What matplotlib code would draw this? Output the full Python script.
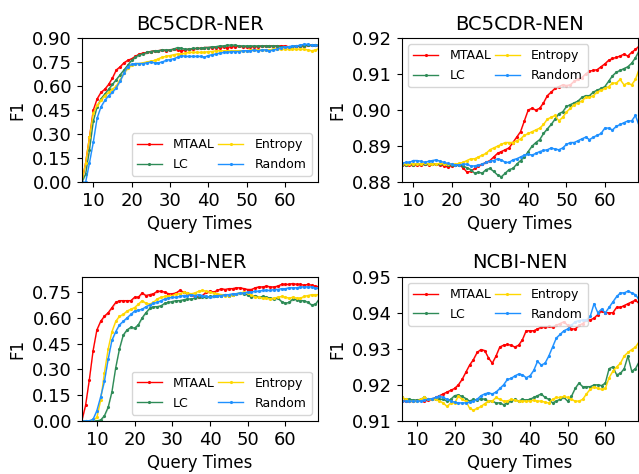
import numpy as np
import matplotlib
matplotlib.use("Agg")
import matplotlib.pyplot as plt

# query times
x_top = np.arange(7, 70)
x_bottom = np.arange(6, 70)

methods = ["MTAAL", "LC", "Entropy", "Random"]
colors = ["red", "seagreen", "gold", "dodgerblue"]

# BC5CDR-NER (x = 7..69)
bc_ner_mtaal = [0.00, 0.12, 0.28, 0.45, 0.52, 0.56, 0.58, 0.61, 0.65, 0.70,
                0.72, 0.745, 0.76, 0.77, 0.785, 0.80, 0.805, 0.81, 0.815, 0.82,
                0.82, 0.825, 0.82, 0.825, 0.83, 0.825, 0.82, 0.825, 0.83, 0.83,
                0.835, 0.835, 0.84, 0.84, 0.84, 0.84, 0.84, 0.845, 0.84, 0.845,
                0.845, 0.85, 0.845, 0.845, 0.845, 0.845, 0.845, 0.85, 0.85, 0.85,
                0.85, 0.85, 0.85, 0.85, 0.845, 0.845, 0.85, 0.85, 0.85, 0.855,
                0.855, 0.855, 0.85]
bc_ner_lc = [0.00, 0.05, 0.20, 0.38, 0.47, 0.52, 0.55, 0.58, 0.61, 0.64,
             0.67, 0.70, 0.73, 0.76, 0.78, 0.795, 0.80, 0.81, 0.815, 0.82,
             0.82, 0.825, 0.825, 0.825, 0.83, 0.84, 0.835, 0.83, 0.83, 0.835,
             0.835, 0.835, 0.84, 0.84, 0.845, 0.845, 0.85, 0.85, 0.855, 0.855,
             0.855, 0.85, 0.85, 0.85, 0.85, 0.85, 0.85, 0.85, 0.85, 0.85,
             0.85, 0.85, 0.845, 0.845, 0.845, 0.845, 0.85, 0.85, 0.85, 0.855,
             0.855, 0.855, 0.855]
bc_ner_entropy = [0.00, 0.12, 0.28, 0.43, 0.48, 0.51, 0.54, 0.56, 0.58, 0.60,
                  0.64, 0.68, 0.71, 0.73, 0.74, 0.74, 0.745, 0.75, 0.755, 0.76,
                  0.77, 0.78, 0.785, 0.79, 0.795, 0.80, 0.80, 0.805, 0.81, 0.81,
                  0.81, 0.81, 0.81, 0.815, 0.815, 0.82, 0.82, 0.82, 0.82, 0.82,
                  0.82, 0.82, 0.82, 0.82, 0.825, 0.825, 0.825, 0.825, 0.825, 0.825,
                  0.83, 0.83, 0.83, 0.83, 0.83, 0.83, 0.83, 0.83, 0.83, 0.825,
                  0.82, 0.825, 0.835]
bc_ner_random = [0.00, 0.00, 0.12, 0.25, 0.40, 0.47, 0.51, 0.54, 0.56, 0.59,
                 0.63, 0.68, 0.72, 0.735, 0.74, 0.74, 0.74, 0.745, 0.75, 0.745,
                 0.745, 0.75, 0.76, 0.765, 0.77, 0.78, 0.79, 0.785, 0.785, 0.785,
                 0.785, 0.785, 0.78, 0.79, 0.795, 0.80, 0.805, 0.81, 0.81, 0.815,
                 0.815, 0.815, 0.82, 0.82, 0.82, 0.825, 0.82, 0.825, 0.825, 0.82,
                 0.825, 0.83, 0.84, 0.845, 0.845, 0.85, 0.85, 0.855, 0.86, 0.86,
                 0.855, 0.855, 0.85]

# BC5CDR-NEN (x = 7..69)
bc_nen_mtaal = [0.8848, 0.8848, 0.8847, 0.8848, 0.8848, 0.8848, 0.8850, 0.8849, 0.8850, 0.8850,
                0.8848, 0.8846, 0.8842, 0.8846, 0.8848, 0.8848, 0.8840, 0.8828, 0.8830, 0.8838,
                0.8845, 0.8850, 0.8855, 0.8860, 0.8870, 0.8880, 0.8885, 0.8890, 0.8895, 0.8910,
                0.8925, 0.8940, 0.8970, 0.9000, 0.9005, 0.9000, 0.9005, 0.9020, 0.9040, 0.9050,
                0.9060, 0.9065, 0.9070, 0.9068, 0.9070, 0.9080, 0.9085, 0.9090, 0.9100, 0.9108,
                0.9110, 0.9112, 0.9120, 0.9128, 0.9138, 0.9143, 0.9146, 0.9150, 0.9155, 0.9150,
                0.9160, 0.9168, 0.9178]
bc_nen_lc = [0.8848, 0.8849, 0.8850, 0.8849, 0.8850, 0.8850, 0.8850, 0.8850, 0.8851, 0.8850,
             0.8850, 0.8850, 0.8849, 0.8848, 0.8848, 0.8847, 0.8845, 0.8840, 0.8835, 0.8825,
             0.8828, 0.8825, 0.8835, 0.8838, 0.8830, 0.8820, 0.8815, 0.8825, 0.8835, 0.8838,
             0.8850, 0.8860, 0.8870, 0.8885, 0.8900, 0.8910, 0.8918, 0.8935, 0.8948, 0.8960,
             0.8975, 0.8990, 0.8995, 0.9010, 0.9015, 0.9020, 0.9025, 0.9035, 0.9040, 0.9040,
             0.9050, 0.9055, 0.9060, 0.9065, 0.9080, 0.9095, 0.9105, 0.9110, 0.9115, 0.9120,
             0.9130, 0.9145, 0.9165]
bc_nen_entropy = [0.8850, 0.8850, 0.8851, 0.8851, 0.8850, 0.8851, 0.8852, 0.8851, 0.8850, 0.8851,
                  0.8852, 0.8851, 0.8850, 0.8850, 0.8850, 0.8852, 0.8855, 0.8860, 0.8865, 0.8865,
                  0.8870, 0.8875, 0.8880, 0.8890, 0.8895, 0.8900, 0.8905, 0.8910, 0.8910, 0.8910,
                  0.8915, 0.8920, 0.8930, 0.8935, 0.8940, 0.8945, 0.8950, 0.8960, 0.8975, 0.8980,
                  0.8985, 0.8970, 0.8980, 0.8995, 0.9005, 0.9015, 0.9020, 0.9025, 0.9035, 0.9035,
                  0.9040, 0.9050, 0.9055, 0.9060, 0.9065, 0.9075, 0.9075, 0.9085, 0.9070, 0.9075,
                  0.9070, 0.9085, 0.9115]
bc_nen_random = [0.8852, 0.8855, 0.8855, 0.8860, 0.8860, 0.8858, 0.8855, 0.8858, 0.8860, 0.8862,
                 0.8858, 0.8855, 0.8852, 0.8850, 0.8848, 0.8848, 0.8850, 0.8850, 0.8845, 0.8845,
                 0.8848, 0.8850, 0.8855, 0.8858, 0.8860, 0.8865, 0.8862, 0.8855, 0.8855, 0.8862,
                 0.8865, 0.8870, 0.8875, 0.8878, 0.8875, 0.8880, 0.8885, 0.8888, 0.8890, 0.8895,
                 0.8892, 0.8890, 0.8895, 0.8905, 0.8910, 0.8910, 0.8915, 0.8920, 0.8925, 0.8918,
                 0.8925, 0.8930, 0.8935, 0.8950, 0.8950, 0.8945, 0.8955, 0.8960, 0.8965, 0.8970,
                 0.8970, 0.8985, 0.8955]

# NCBI-NER (x = 6..69)
ncbi_ner_mtaal = [0.00, 0.09, 0.24, 0.41, 0.53, 0.58, 0.61, 0.63, 0.66, 0.69,
                  0.70, 0.70, 0.70, 0.70, 0.72, 0.72, 0.745, 0.73, 0.735, 0.74,
                  0.755, 0.755, 0.75, 0.74, 0.74, 0.745, 0.76, 0.75, 0.745, 0.735,
                  0.725, 0.72, 0.73, 0.75, 0.755, 0.75, 0.76, 0.77, 0.765, 0.77,
                  0.77, 0.775, 0.775, 0.77, 0.765, 0.765, 0.775, 0.78, 0.78, 0.785,
                  0.78, 0.78, 0.785, 0.795, 0.795, 0.795, 0.80, 0.795, 0.795, 0.79,
                  0.795, 0.79, 0.785, 0.78]
ncbi_ner_lc = [0.00, 0.00, 0.00, 0.00, 0.00, 0.005, 0.03, 0.08, 0.17, 0.31,
               0.42, 0.50, 0.53, 0.545, 0.54, 0.56, 0.60, 0.63, 0.655, 0.665,
               0.665, 0.67, 0.685, 0.69, 0.695, 0.70, 0.70, 0.705, 0.71, 0.71,
               0.715, 0.72, 0.72, 0.72, 0.725, 0.725, 0.73, 0.73, 0.735, 0.73,
               0.735, 0.74, 0.745, 0.74, 0.735, 0.72, 0.73, 0.72, 0.725, 0.72,
               0.715, 0.71, 0.715, 0.695, 0.685, 0.69, 0.71, 0.705, 0.70, 0.70,
               0.69, 0.675, 0.68, 0.71]
ncbi_ner_entropy = [0.00, 0.00, 0.00, 0.005, 0.02, 0.12, 0.28, 0.42, 0.52, 0.58,
                    0.61, 0.62, 0.64, 0.65, 0.66, 0.68, 0.70, 0.685, 0.68, 0.69,
                    0.71, 0.72, 0.725, 0.73, 0.73, 0.74, 0.74, 0.75, 0.745, 0.74,
                    0.745, 0.755, 0.76, 0.755, 0.75, 0.745, 0.74, 0.735, 0.73, 0.73,
                    0.735, 0.74, 0.745, 0.75, 0.745, 0.735, 0.72, 0.72, 0.715, 0.715,
                    0.71, 0.715, 0.72, 0.725, 0.72, 0.715, 0.72, 0.715, 0.715, 0.725,
                    0.73, 0.735, 0.735, 0.735]
ncbi_ner_random = [0.00, 0.00, 0.00, 0.01, 0.06, 0.14, 0.23, 0.36, 0.47, 0.52,
                   0.56, 0.58, 0.60, 0.62, 0.64, 0.645, 0.65, 0.665, 0.675, 0.685,
                   0.69, 0.70, 0.71, 0.715, 0.72, 0.72, 0.725, 0.73, 0.73, 0.735,
                   0.73, 0.735, 0.73, 0.725, 0.72, 0.725, 0.73, 0.73, 0.735, 0.735,
                   0.74, 0.74, 0.745, 0.745, 0.75, 0.75, 0.755, 0.755, 0.76, 0.76,
                   0.76, 0.765, 0.765, 0.77, 0.77, 0.775, 0.775, 0.775, 0.78, 0.78,
                   0.78, 0.78, 0.775, 0.77]

# NCBI-NEN (x = 6..69)
ncbi_nen_mtaal = [0.9155, 0.9155, 0.9155, 0.9155, 0.9157, 0.9157, 0.9155, 0.9158, 0.9160, 0.9165,
                  0.9170, 0.9175, 0.9180, 0.9185, 0.9190, 0.9200, 0.9215, 0.9235, 0.9255, 0.9270,
                  0.9290, 0.9298, 0.9295, 0.9275, 0.9260, 0.9280, 0.9305, 0.9310, 0.9312, 0.9310,
                  0.9305, 0.9310, 0.9325, 0.9350, 0.9350, 0.9350, 0.9355, 0.9360, 0.9360, 0.9362,
                  0.9360, 0.9365, 0.9370, 0.9375, 0.9365, 0.9355, 0.9355, 0.9365, 0.9370, 0.9380,
                  0.9380, 0.9385, 0.9395, 0.9405, 0.9400, 0.9400, 0.9400, 0.9415, 0.9415, 0.9420,
                  0.9425, 0.9430, 0.9435, 0.9425]
ncbi_nen_lc = [0.9165, 0.9160, 0.9160, 0.9158, 0.9158, 0.9160, 0.9165, 0.9160, 0.9160, 0.9160,
               0.9160, 0.9160, 0.9155, 0.9160, 0.9170, 0.9172, 0.9168, 0.9162, 0.9155, 0.9160,
               0.9158, 0.9162, 0.9160, 0.9155, 0.9155, 0.9150, 0.9150, 0.9145, 0.9150, 0.9155,
               0.9160, 0.9155, 0.9160, 0.9158, 0.9160, 0.9165, 0.9170, 0.9175, 0.9165, 0.9160,
               0.9150, 0.9155, 0.9160, 0.9165, 0.9155, 0.9168, 0.9190, 0.9205, 0.9195, 0.9195,
               0.9195, 0.9200, 0.9200, 0.9198, 0.9205, 0.9245, 0.9250, 0.9228, 0.9232, 0.9245,
               0.9280, 0.9238, 0.9245, 0.9265]
ncbi_nen_entropy = [0.9165, 0.9160, 0.9155, 0.9155, 0.9155, 0.9160, 0.9165, 0.9160, 0.9160, 0.9160,
                    0.9155, 0.9150, 0.9140, 0.9150, 0.9150, 0.9168, 0.9160, 0.9155, 0.9135, 0.9130,
                    0.9135, 0.9140, 0.9148, 0.9155, 0.9155, 0.9165, 0.9160, 0.9155, 0.9155, 0.9160,
                    0.9158, 0.9155, 0.9155, 0.9155, 0.9155, 0.9158, 0.9155, 0.9155, 0.9152, 0.9150,
                    0.9160, 0.9165, 0.9165, 0.9168, 0.9165, 0.9160, 0.9155, 0.9155, 0.9160, 0.9175,
                    0.9188, 0.9195, 0.9190, 0.9188, 0.9190, 0.9220, 0.9238, 0.9250, 0.9260, 0.9280,
                    0.9290, 0.9298, 0.9305, 0.9320]
ncbi_nen_random = [0.9155, 0.9155, 0.9155, 0.9155, 0.9155, 0.9155, 0.9158, 0.9160, 0.9162, 0.9165,
                   0.9168, 0.9165, 0.9160, 0.9155, 0.9152, 0.9150, 0.9150, 0.9150, 0.9152, 0.9155,
                   0.9160, 0.9170, 0.9175, 0.9178, 0.9175, 0.9180, 0.9190, 0.9200, 0.9215, 0.9218,
                   0.9225, 0.9230, 0.9228, 0.9220, 0.9225, 0.9240, 0.9265, 0.9255, 0.9260, 0.9280,
                   0.9305, 0.9330, 0.9340, 0.9350, 0.9355, 0.9365, 0.9375, 0.9378, 0.9380, 0.9380,
                   0.9390, 0.9425, 0.9400, 0.9410, 0.9400, 0.9415, 0.9430, 0.9445, 0.9455, 0.9455,
                   0.9460, 0.9455, 0.9450, 0.9435]


def draw_panel(ax, title, xs, series, ylim, yticks, band, legend_loc):
    for name, color, ys in zip(methods, colors, series):
        ys = np.asarray(ys)
        ax.fill_between(xs, ys - band, ys + band, color=color, alpha=0.25, linewidth=0)
        ax.plot(xs, ys, color=color, linewidth=1, marker=".", markersize=2.5, label=name)
    ax.set_title(title, fontsize=14)
    ax.set_xlim(xs[0], 68.6)
    ax.set_ylim(*ylim)
    ax.set_yticks(yticks)
    ax.set_yticklabels([f"{t:.2f}" for t in yticks])
    ax.set_xticks([10, 20, 30, 40, 50, 60])
    ax.tick_params(labelsize=13)
    ax.set_xlabel("Query Times", fontsize=12)
    ax.set_ylabel("F1", fontsize=12)
    ax.legend(loc=legend_loc, ncol=2, fontsize=9, columnspacing=0.3,
              handlelength=2.0, handletextpad=0.9, labelspacing=0.55)


fig, axes = plt.subplots(2, 2, figsize=(6.39, 4.74), dpi=100)
fig.subplots_adjust(left=0.128, right=0.998, bottom=0.112, top=0.92,
                    wspace=0.356, hspace=0.655)

draw_panel(axes[0, 0], "BC5CDR-NER", x_top,
           [bc_ner_mtaal, bc_ner_lc, bc_ner_entropy, bc_ner_random],
           (0, 0.9), np.arange(0, 0.91, 0.15), 0.008, "lower right")
draw_panel(axes[0, 1], "BC5CDR-NEN", x_top,
           [bc_nen_mtaal, bc_nen_lc, bc_nen_entropy, bc_nen_random],
           (0.88, 0.92), np.arange(0.88, 0.9201, 0.01), 0.0003, "upper left")
draw_panel(axes[1, 0], "NCBI-NER", x_bottom,
           [ncbi_ner_mtaal, ncbi_ner_lc, ncbi_ner_entropy, ncbi_ner_random],
           (0, 0.84), np.arange(0, 0.76, 0.15), 0.008, "lower right")
draw_panel(axes[1, 1], "NCBI-NEN", x_bottom,
           [ncbi_nen_mtaal, ncbi_nen_lc, ncbi_nen_entropy, ncbi_nen_random],
           (0.91, 0.95), np.arange(0.91, 0.9501, 0.01), 0.0003, "upper left")

fig.savefig("out.png", dpi=100)
